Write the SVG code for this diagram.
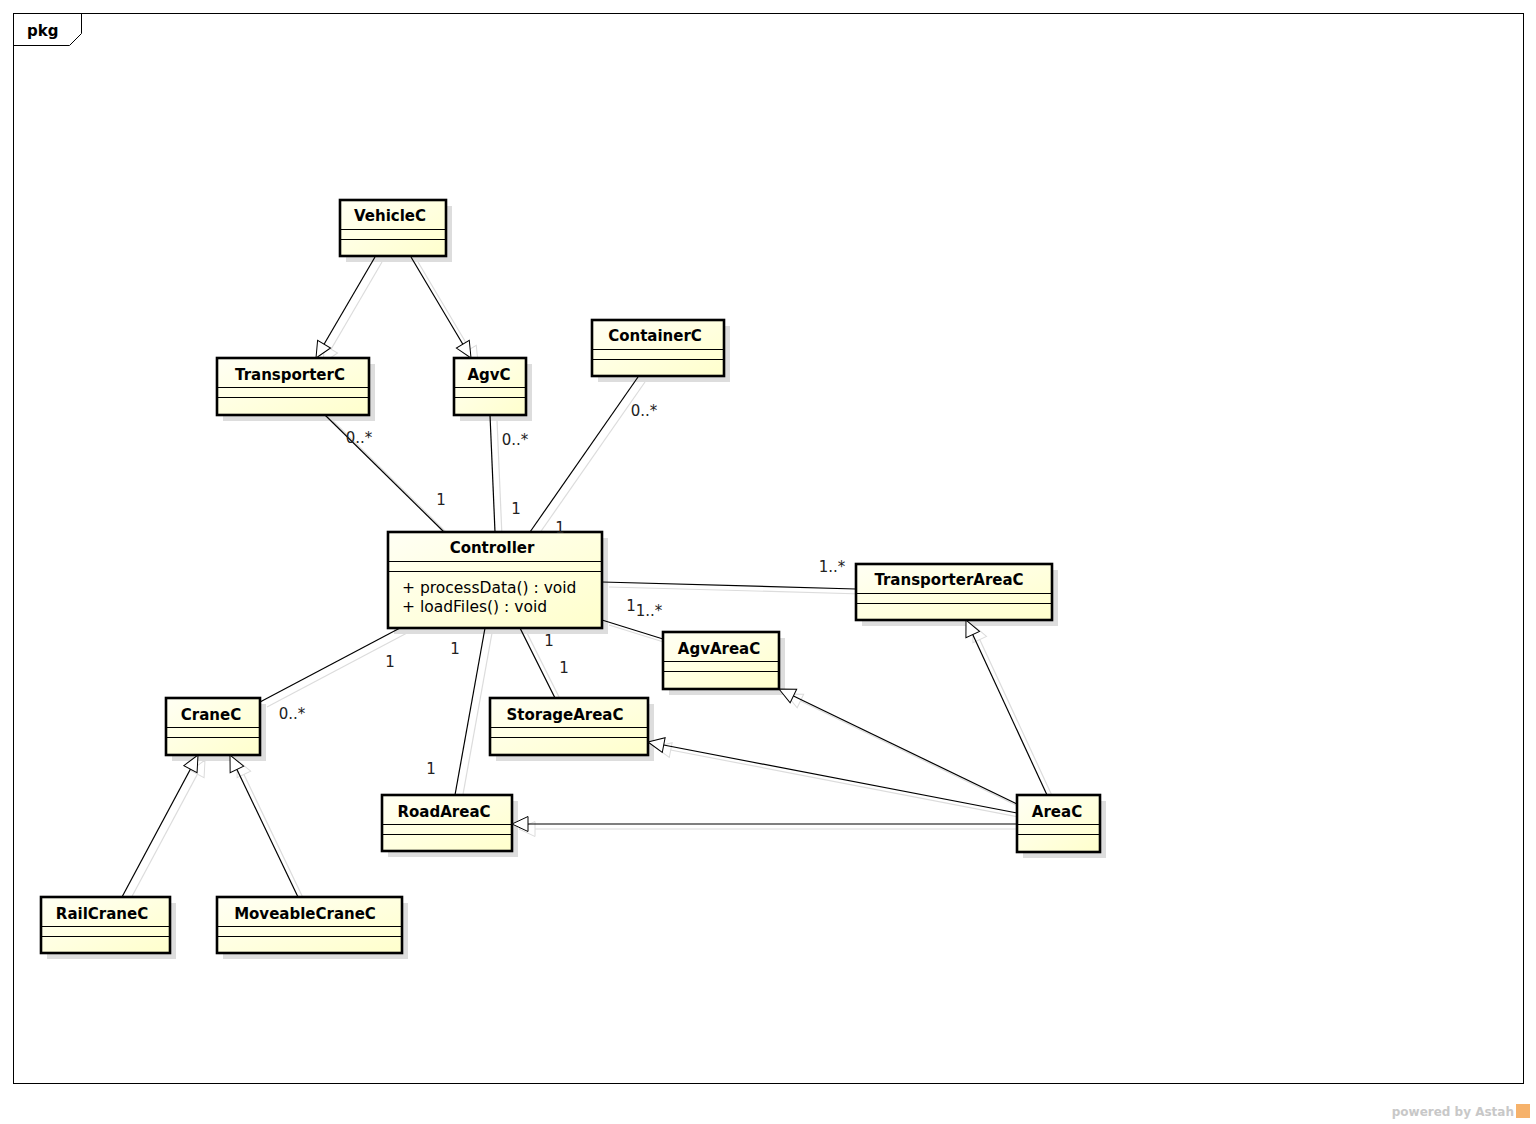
<svg xmlns="http://www.w3.org/2000/svg" width="1536" height="1124" viewBox="0 0 1536 1124">
<defs>
<linearGradient id="g" x1="0" y1="0" x2="1" y2="1">
<stop offset="0" stop-color="#fffff4"/>
<stop offset="1" stop-color="#ffffcc"/>
</linearGradient>
<marker id="tri" markerUnits="userSpaceOnUse" markerWidth="20" markerHeight="20" viewBox="-18 -9 20 18" refX="0" refY="0" orient="auto">
<path d="M0,0 L-16,-7.5 L-16,7.5 Z" fill="#fff" stroke="#000" stroke-width="1"/>
</marker>
<marker id="trish" markerUnits="userSpaceOnUse" markerWidth="20" markerHeight="20" viewBox="-18 -9 20 18" refX="0" refY="0" orient="auto">
<path d="M0,0 L-16,-7.5 L-16,7.5 Z" fill="#fff" stroke="#dcdcdc" stroke-width="1"/>
</marker>
</defs>
<style>
.sh{fill:#dddddd}
.box{fill:url(#g);stroke:#000;stroke-width:2.6}
.sep{stroke:#000;stroke-width:1}
.nm{font-family:"DejaVu Sans","Liberation Sans",sans-serif;font-size:15px;font-weight:bold;text-anchor:middle;fill:#000}
.op{font-family:"DejaVu Sans","Liberation Sans",sans-serif;font-size:15.5px;fill:#000}
.lb{font-family:"DejaVu Sans","Liberation Sans",sans-serif;font-size:15px;text-anchor:middle;fill:#222}
.ln{stroke:#000;stroke-width:1.2;fill:none}
.lns{stroke:#dcdcdc;stroke-width:1.2;fill:none}
.gen{marker-end:url(#tri)}
.gens{marker-end:url(#trish)}
</style>
<rect width="1536" height="1124" fill="#fff"/>
<g id="frame">
<rect x="13.5" y="13.5" width="1510" height="1070" fill="none" stroke="#000" stroke-width="1"/>
<path d="M13.5,45.5 L69.5,45.5 L81.5,33.5 L81.5,13.5" fill="none" stroke="#000" stroke-width="1"/>
<text x="27" y="36" font-family="DejaVu Sans, Liberation Sans, sans-serif" font-size="15" font-weight="bold" fill="#000">pkg</text>
</g>
<g id="connectors-shadow" transform="translate(7,5)">
<line class="lns gens" x1="375" y1="257" x2="316" y2="358"/>
<line class="lns gens" x1="411" y1="257" x2="471" y2="358"/>
<line class="lns" x1="325" y1="415" x2="444" y2="532"/>
<line class="lns" x1="490" y1="415" x2="495" y2="532"/>
<line class="lns" x1="638" y1="377" x2="530" y2="532"/>
<line class="lns" x1="602" y1="582" x2="856" y2="589"/>
<line class="lns" x1="602" y1="620" x2="663" y2="639"/>
<line class="lns" x1="520" y1="628" x2="555" y2="698"/>
<line class="lns" x1="485" y1="628" x2="455" y2="795"/>
<line class="lns" x1="400" y1="628" x2="260" y2="702"/>
<line class="lns gens" x1="1017" y1="824" x2="512" y2="824"/>
<line class="lns gens" x1="1017" y1="813" x2="648" y2="742"/>
<line class="lns gens" x1="1017" y1="804" x2="779" y2="689"/>
<line class="lns gens" x1="1047" y1="795" x2="966" y2="620"/>
<line class="lns gens" x1="122" y1="897" x2="198" y2="755"/>
<line class="lns gens" x1="298" y1="897" x2="230" y2="755"/>
</g>
<g id="VehicleC"><rect class="sh" x="346" y="206" width="106" height="56"/><rect class="box" x="340" y="200" width="106" height="56"/><line class="sep" x1="340" y1="229.5" x2="446" y2="229.5"/><line class="sep" x1="340" y1="239.5" x2="446" y2="239.5"/><text class="nm" x="390" y="221">VehicleC</text></g>
<g id="TransporterC"><rect class="sh" x="223" y="364" width="152" height="57"/><rect class="box" x="217" y="358" width="152" height="57"/><line class="sep" x1="217" y1="387.5" x2="369" y2="387.5"/><line class="sep" x1="217" y1="397.5" x2="369" y2="397.5"/><text class="nm" x="290" y="380">TransporterC</text></g>
<g id="AgvC"><rect class="sh" x="460" y="364" width="72" height="57"/><rect class="box" x="454" y="358" width="72" height="57"/><line class="sep" x1="454" y1="387.5" x2="526" y2="387.5"/><line class="sep" x1="454" y1="397.5" x2="526" y2="397.5"/><text class="nm" x="489" y="380">AgvC</text></g>
<g id="ContainerC"><rect class="sh" x="598" y="326" width="132" height="56"/><rect class="box" x="592" y="320" width="132" height="56"/><line class="sep" x1="592" y1="349.5" x2="724" y2="349.5"/><line class="sep" x1="592" y1="359.5" x2="724" y2="359.5"/><text class="nm" x="655" y="341">ContainerC</text></g>
<g id="Controller"><rect class="sh" x="394" y="538" width="214" height="96"/><rect class="box" x="388" y="532" width="214" height="96"/><line class="sep" x1="388" y1="561.5" x2="602" y2="561.5"/><line class="sep" x1="388" y1="571.5" x2="602" y2="571.5"/><text class="nm" x="492" y="553">Controller</text><text class="op" x="402" y="593">+ processData() : void</text><text class="op" x="402" y="612">+ loadFiles() : void</text></g>
<g id="TransporterAreaC"><rect class="sh" x="862" y="570" width="196" height="56"/><rect class="box" x="856" y="564" width="196" height="56"/><line class="sep" x1="856" y1="593.5" x2="1052" y2="593.5"/><line class="sep" x1="856" y1="603.5" x2="1052" y2="603.5"/><text class="nm" x="949" y="585">TransporterAreaC</text></g>
<g id="AgvAreaC"><rect class="sh" x="669" y="638" width="116" height="57"/><rect class="box" x="663" y="632" width="116" height="57"/><line class="sep" x1="663" y1="661.5" x2="779" y2="661.5"/><line class="sep" x1="663" y1="671.5" x2="779" y2="671.5"/><text class="nm" x="719" y="654">AgvAreaC</text></g>
<g id="CraneC"><rect class="sh" x="172" y="704" width="94" height="57"/><rect class="box" x="166" y="698" width="94" height="57"/><line class="sep" x1="166" y1="727.5" x2="260" y2="727.5"/><line class="sep" x1="166" y1="737.5" x2="260" y2="737.5"/><text class="nm" x="211" y="720">CraneC</text></g>
<g id="StorageAreaC"><rect class="sh" x="496" y="704" width="158" height="57"/><rect class="box" x="490" y="698" width="158" height="57"/><line class="sep" x1="490" y1="727.5" x2="648" y2="727.5"/><line class="sep" x1="490" y1="737.5" x2="648" y2="737.5"/><text class="nm" x="565" y="720">StorageAreaC</text></g>
<g id="RoadAreaC"><rect class="sh" x="388" y="801" width="130" height="56"/><rect class="box" x="382" y="795" width="130" height="56"/><line class="sep" x1="382" y1="824.5" x2="512" y2="824.5"/><line class="sep" x1="382" y1="834.5" x2="512" y2="834.5"/><text class="nm" x="444" y="817">RoadAreaC</text></g>
<g id="AreaC"><rect class="sh" x="1023" y="801" width="83" height="57"/><rect class="box" x="1017" y="795" width="83" height="57"/><line class="sep" x1="1017" y1="824.5" x2="1100" y2="824.5"/><line class="sep" x1="1017" y1="834.5" x2="1100" y2="834.5"/><text class="nm" x="1057" y="817">AreaC</text></g>
<g id="RailCraneC"><rect class="sh" x="47" y="903" width="129" height="56"/><rect class="box" x="41" y="897" width="129" height="56"/><line class="sep" x1="41" y1="926.5" x2="170" y2="926.5"/><line class="sep" x1="41" y1="936.5" x2="170" y2="936.5"/><text class="nm" x="102" y="919">RailCraneC</text></g>
<g id="MoveableCraneC"><rect class="sh" x="223" y="903" width="185" height="56"/><rect class="box" x="217" y="897" width="185" height="56"/><line class="sep" x1="217" y1="926.5" x2="402" y2="926.5"/><line class="sep" x1="217" y1="936.5" x2="402" y2="936.5"/><text class="nm" x="305" y="919">MoveableCraneC</text></g>
<g id="connectors">
<line class="ln gen" x1="375" y1="257" x2="316" y2="358"/>
<line class="ln gen" x1="411" y1="257" x2="471" y2="358"/>
<line class="ln" x1="325" y1="415" x2="444" y2="532"/>
<line class="ln" x1="490" y1="415" x2="495" y2="532"/>
<line class="ln" x1="638" y1="377" x2="530" y2="532"/>
<line class="ln" x1="602" y1="582" x2="856" y2="589"/>
<line class="ln" x1="602" y1="620" x2="663" y2="639"/>
<line class="ln" x1="520" y1="628" x2="555" y2="698"/>
<line class="ln" x1="485" y1="628" x2="455" y2="795"/>
<line class="ln" x1="400" y1="628" x2="260" y2="702"/>
<line class="ln gen" x1="1017" y1="824" x2="512" y2="824"/>
<line class="ln gen" x1="1017" y1="813" x2="648" y2="742"/>
<line class="ln gen" x1="1017" y1="804" x2="779" y2="689"/>
<line class="ln gen" x1="1047" y1="795" x2="966" y2="620"/>
<line class="ln gen" x1="122" y1="897" x2="198" y2="755"/>
<line class="ln gen" x1="298" y1="897" x2="230" y2="755"/>
<text class="lb" x="359" y="443">0..*</text>
<text class="lb" x="441" y="505">1</text>
<text class="lb" x="515" y="445">0..*</text>
<text class="lb" x="516" y="514">1</text>
<text class="lb" x="644" y="416">0..*</text>
<text class="lb" x="560" y="533">1</text>
<text class="lb" x="832" y="572">1..*</text>
<text class="lb" x="631" y="611">1</text>
<text class="lb" x="649" y="616">1..*</text>
<text class="lb" x="549" y="646">1</text>
<text class="lb" x="564" y="673">1</text>
<text class="lb" x="455" y="654">1</text>
<text class="lb" x="431" y="774">1</text>
<text class="lb" x="390" y="667">1</text>
<text class="lb" x="292" y="719">0..*</text>
</g>
<g id="watermark">
<text x="1514" y="1116" text-anchor="end" font-family="DejaVu Sans, Liberation Sans, sans-serif" font-size="12" font-weight="bold" fill="#c8c8c8">powered by Astah</text>
<rect x="1516" y="1104" width="14" height="14" fill="#f6b26b"/>
</g>
</svg>
